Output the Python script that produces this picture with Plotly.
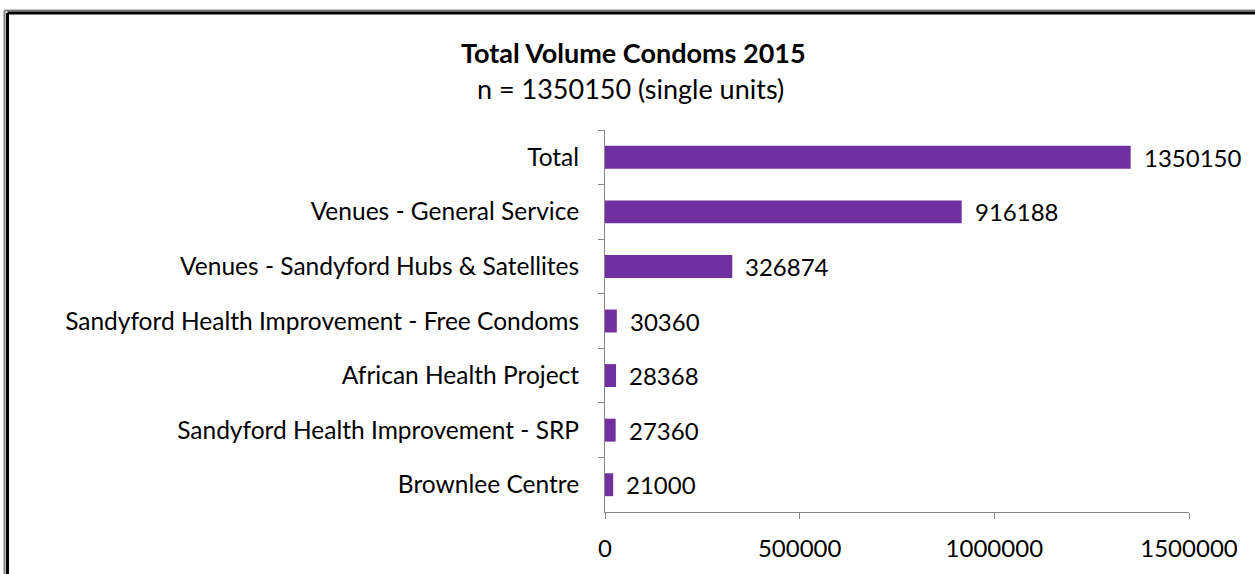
import plotly.graph_objects as go

categories = [
    "Total",
    "Venues - General Service",
    "Venues - Sandyford Hubs & Satellites",
    "Sandyford Health Improvement - Free Condoms",
    "African Health Project",
    "Sandyford Health Improvement - SRP",
    "Brownlee Centre",
]
values = [1350150, 916188, 326874, 30360, 28368, 27360, 21000]
x_ticks = [0, 500000, 1000000, 1500000]
title_text = "Total Volume Condoms 2015"
subtitle_text = "n = 1350150 (single units)"

FONT = "Lato"
W, H = 1255, 574
AX_L, AX_R, AX_T, AX_B = 605, 1189, 130, 515
L, T = AX_L, AX_T
R, B = W - AX_R, H - AX_B
pw, ph = AX_R - AX_L, AX_B - AX_T

def px_x(px):
    return (px - AX_L) / pw

def px_y(py):
    return (AX_B - py) / ph

fig = go.Figure()
fig.add_trace(go.Bar(
    x=values, y=categories, orientation="h",
    marker=dict(color="#7030A0", line=dict(width=0)),
    width=0.42, cliponaxis=False,
))

for c, v in zip(categories, values):
    fig.add_annotation(x=v, y=c, text=str(v), showarrow=False,
                       xanchor="left", xshift=11, yanchor="middle",
                       font=dict(family=FONT, size=24, color="#000000"))

fig.add_annotation(xref="paper", yref="paper", x=px_x(633), y=px_y(52),
                   text="<b>" + title_text + "</b>", showarrow=False,
                   xanchor="center", yanchor="middle",
                   font=dict(family=FONT, size=27, color="#000000"))
fig.add_annotation(xref="paper", yref="paper", x=px_x(630), y=px_y(88),
                   text=subtitle_text, showarrow=False,
                   xanchor="center", yanchor="middle",
                   font=dict(family=FONT, size=27, color="#000000"))

# frame (left and top double line)
fig.add_shape(type="line", xref="paper", yref="paper",
              x0=px_x(4.5), x1=px_x(4.5), y0=px_y(9.5), y1=px_y(600),
              line=dict(color="#808080", width=2))
fig.add_shape(type="line", xref="paper", yref="paper",
              x0=px_x(7.5), x1=px_x(7.5), y0=px_y(12), y1=px_y(600),
              line=dict(color="#000000", width=3))
fig.add_shape(type="line", xref="paper", yref="paper",
              x0=px_x(4.5), x1=px_x(1300), y0=px_y(9.5), y1=px_y(9.5),
              line=dict(color="#808080", width=2))
fig.add_shape(type="line", xref="paper", yref="paper",
              x0=px_x(7.5), x1=px_x(1300), y0=px_y(12), y1=px_y(12),
              line=dict(color="#000000", width=3))

fig.update_layout(
    width=W, height=H,
    margin=dict(l=L, r=R, t=T, b=B, pad=0),
    paper_bgcolor="white", plot_bgcolor="white",
    showlegend=False,
    font=dict(family=FONT, size=24, color="#000000"),
    xaxis=dict(range=[0, 1500000], tickvals=x_ticks,
               ticktext=[str(t) for t in x_ticks],
               showgrid=False, zeroline=False,
               showline=True, linecolor="#868686", linewidth=1,
               ticks="outside", ticklen=6, tickcolor="#868686",
               ticklabelstandoff=9,
               tickfont=dict(family=FONT, size=24, color="#000000"),
               fixedrange=True),
    yaxis=dict(autorange="reversed", type="category",
               showgrid=False, zeroline=False,
               showline=True, linecolor="#868686", linewidth=1,
               ticks="outside", ticklen=6, tickcolor="#868686",
               tickson="boundaries", ticklabelstandoff=20,
               tickfont=dict(family=FONT, size=24.5, color="#000000"),
               fixedrange=True),
)

fig.write_html("out.html",
               config={"displayModeBar": False},
               post_script="document.body.style.margin='0';document.body.style.overflow='hidden';")
